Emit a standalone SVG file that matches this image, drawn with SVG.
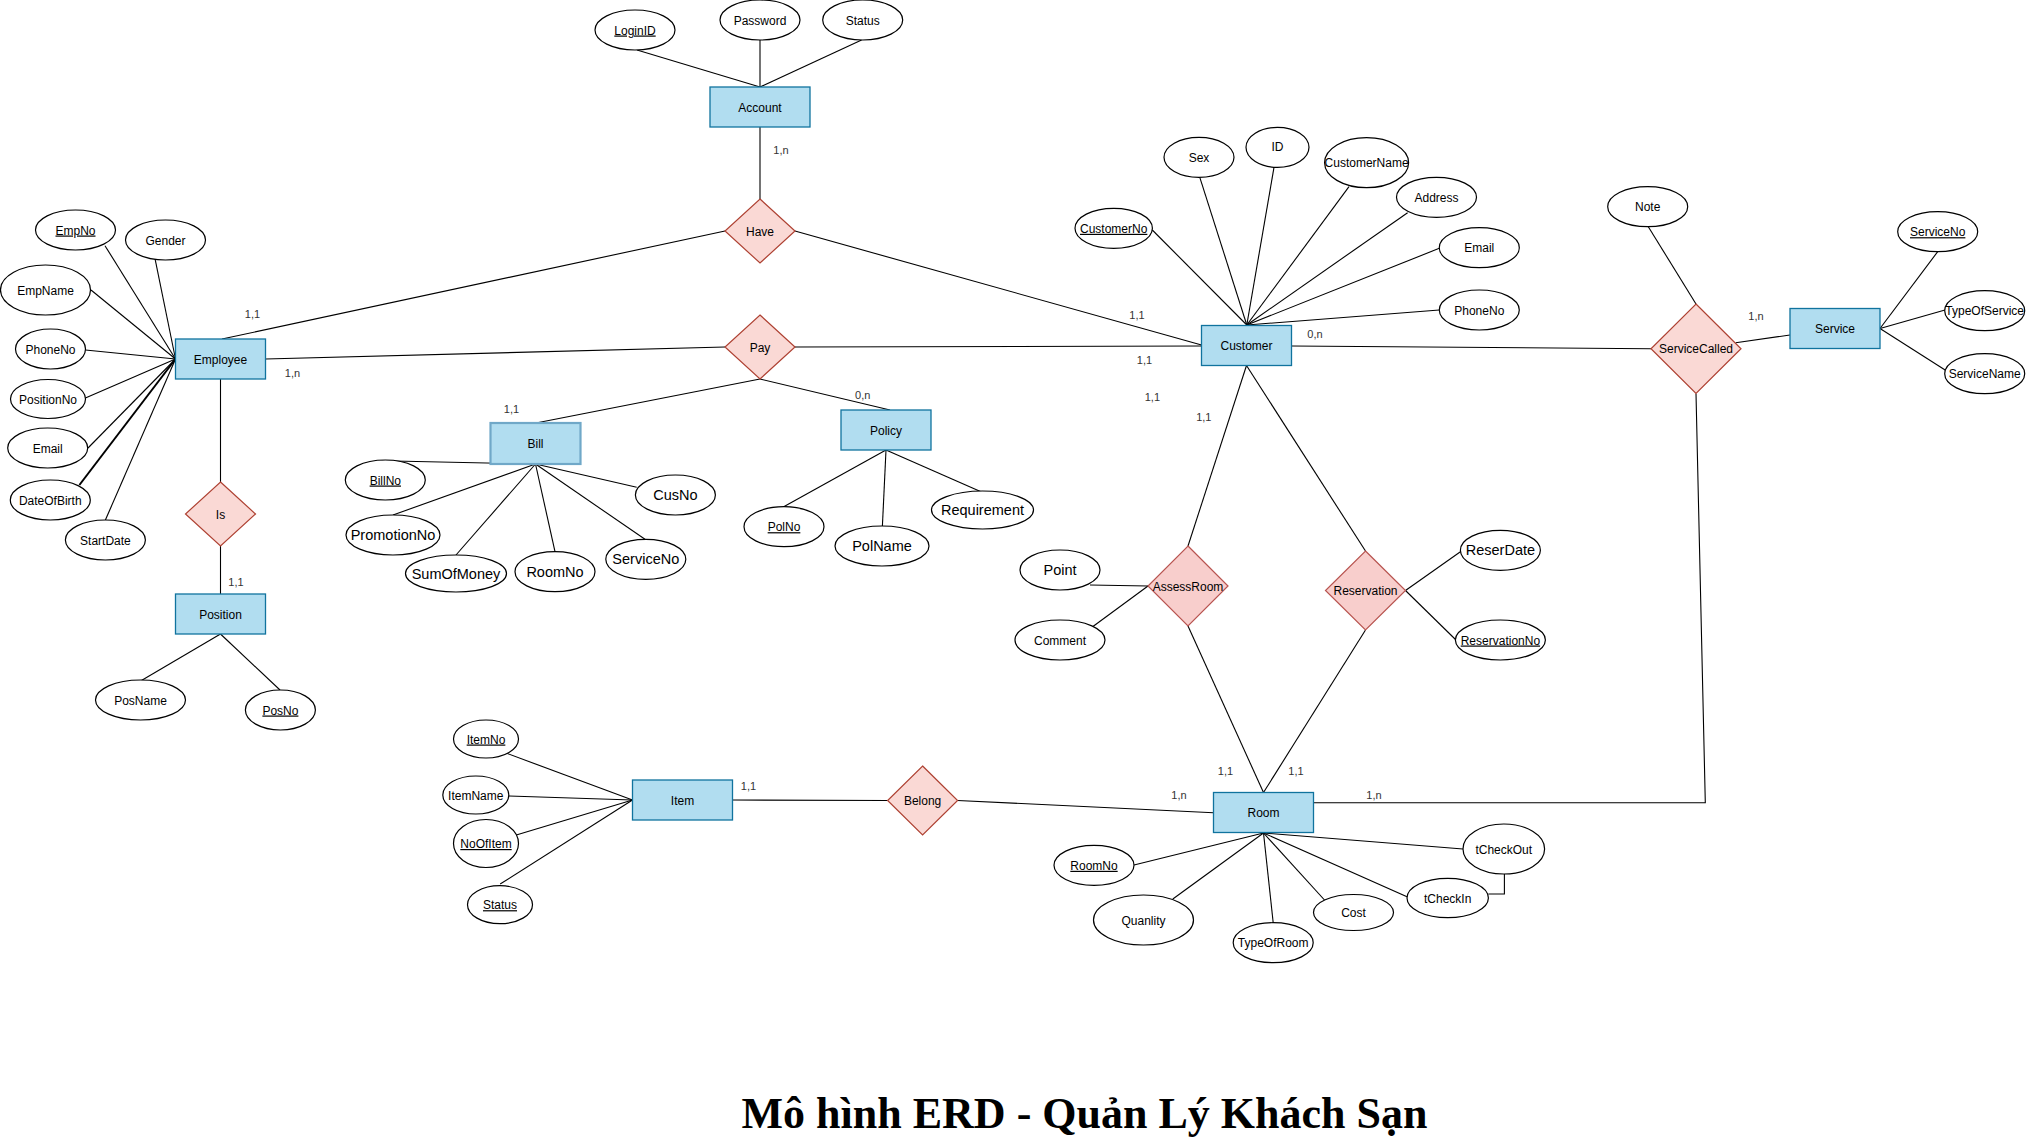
<svg xmlns="http://www.w3.org/2000/svg" width="2027" height="1142" viewBox="0 0 2027 1142">
<style>
text{font-family:"Liberation Sans",Arial,Helvetica,sans-serif;font-size:12px;fill:#000;text-anchor:middle}
.ent{fill:#b1ddf0;stroke:#10739e;stroke-width:1.3}
.entb{fill:#b1ddf0;stroke:#70a8c8;stroke-width:2.2}
.rel{fill:#fad9d5;stroke:#ae4132;stroke-width:1.2}
.rel2{fill:#f8cecc;stroke:#b85450;stroke-width:1.2}
.att{fill:#fff;stroke:#000;stroke-width:1.2}
.lg{font-size:14.5px}
.u{text-decoration:underline}
.card{font-size:11px;fill:#333}
.title{font-family:"Liberation Serif","Times New Roman",serif;font-weight:bold;font-size:44px}
#connectors line,#connectors polyline{stroke:#000;stroke-width:1.1;fill:none}
</style>
<rect width="2027" height="1142" fill="#fff"/>
<g id="connectors">
<line x1="637" y1="50" x2="760" y2="87"/>
<line x1="760" y1="40" x2="760" y2="87"/>
<line x1="861.6" y1="40" x2="760" y2="87"/>
<line x1="760" y1="127" x2="760" y2="199"/>
<line x1="725" y1="231" x2="222" y2="339"/>
<line x1="795" y1="231" x2="1201.5" y2="345"/>
<line x1="725" y1="347" x2="265.5" y2="359"/>
<line x1="795" y1="347" x2="1201.5" y2="346"/>
<line x1="760" y1="379" x2="536" y2="423"/>
<line x1="760" y1="379" x2="890" y2="410"/>
<line x1="220.5" y1="379" x2="220.5" y2="482"/>
<line x1="220.5" y1="546" x2="220.5" y2="594"/>
<line x1="105" y1="245.7" x2="175.5" y2="359"/>
<line x1="155" y1="258.7" x2="175.5" y2="359"/>
<line x1="91" y1="290" x2="175.5" y2="359"/>
<line x1="85.4" y1="350" x2="175.5" y2="359"/>
<line x1="85.4" y1="398" x2="175.5" y2="359"/>
<line x1="88" y1="448" x2="175.5" y2="359"/>
<line x1="79.4" y1="485" x2="175.5" y2="359" style="stroke-width:2"/>
<line x1="105.4" y1="520" x2="175.5" y2="359"/>
<line x1="220.5" y1="634" x2="141" y2="680.7"/>
<line x1="220.5" y1="634" x2="280" y2="690"/>
<line x1="381.6" y1="460.7" x2="535.5" y2="464"/>
<line x1="393" y1="515" x2="535.5" y2="464"/>
<line x1="456" y1="555" x2="535.5" y2="464"/>
<line x1="555" y1="551.7" x2="535.5" y2="464"/>
<line x1="645" y1="539.3" x2="535.5" y2="464"/>
<line x1="636.7" y1="487.3" x2="535.5" y2="464"/>
<line x1="886" y1="450" x2="783.7" y2="506.7"/>
<line x1="886" y1="450" x2="882.4" y2="526"/>
<line x1="886" y1="450" x2="981" y2="491.7"/>
<line x1="1246.8" y1="325" x2="1152.3" y2="230"/>
<line x1="1246.8" y1="325" x2="1199.8" y2="177.3"/>
<line x1="1246.8" y1="325" x2="1274" y2="167.3"/>
<line x1="1246.8" y1="325" x2="1349" y2="186.7"/>
<line x1="1246.8" y1="325" x2="1407.6" y2="212.7"/>
<line x1="1246.8" y1="325" x2="1439.3" y2="248.3"/>
<line x1="1246.8" y1="325" x2="1439.3" y2="310"/>
<line x1="1291.5" y1="346" x2="1651" y2="348.7"/>
<line x1="1246.5" y1="365.5" x2="1188" y2="546"/>
<line x1="1246.5" y1="365.5" x2="1365.5" y2="551"/>
<line x1="1696" y1="304" x2="1648.3" y2="226.7"/>
<line x1="1735.7" y1="342.7" x2="1790" y2="335"/>
<line x1="1880" y1="328.5" x2="1937.7" y2="251.7"/>
<line x1="1880" y1="328.5" x2="1945" y2="310"/>
<line x1="1880" y1="328.5" x2="1946.7" y2="371"/>
<polyline points="1696,393.4 1705.3,802.7 1313.5,802.7"/>
<line x1="1148" y1="586" x2="1090" y2="585"/>
<line x1="1148" y1="586" x2="1092.6" y2="626.7"/>
<line x1="1188" y1="626" x2="1263.5" y2="792.5"/>
<line x1="1365.5" y1="630" x2="1263.5" y2="792.5"/>
<line x1="1405.5" y1="590.5" x2="1460.4" y2="551.7"/>
<line x1="1405.5" y1="590.5" x2="1456" y2="640"/>
<line x1="1263.5" y1="833" x2="1134" y2="865"/>
<line x1="1263.5" y1="833" x2="1172.8" y2="899"/>
<line x1="1263.5" y1="833" x2="1273.2" y2="922.7"/>
<line x1="1263.5" y1="833" x2="1324.5" y2="900"/>
<line x1="1263.5" y1="833" x2="1407" y2="896.7"/>
<line x1="1263.5" y1="833" x2="1463" y2="849"/>
<polyline points="1504.4,874 1504.4,894 1488.4,894"/>
<line x1="506.7" y1="753.3" x2="632.5" y2="800"/>
<line x1="509" y1="796" x2="632.5" y2="800"/>
<line x1="516.3" y1="835" x2="632.5" y2="800"/>
<line x1="500.2" y1="884" x2="632.5" y2="800"/>
<line x1="732.5" y1="800" x2="887.6" y2="800.5"/>
<line x1="957.6" y1="800.5" x2="1213.5" y2="812.7"/>
</g>
<g id="cardinalities">
<text class="card" x="252.5" y="318">1,1</text>
<text class="card" x="292.5" y="377">1,n</text>
<text class="card" x="781" y="154">1,n</text>
<text class="card" x="236" y="586">1,1</text>
<text class="card" x="511.5" y="412.5">1,1</text>
<text class="card" x="862.7" y="399">0,n</text>
<text class="card" x="1137" y="319">1,1</text>
<text class="card" x="1144.5" y="364">1,1</text>
<text class="card" x="1152.4" y="400.7">1,1</text>
<text class="card" x="1203.8" y="420.7">1,1</text>
<text class="card" x="1315" y="338">0,n</text>
<text class="card" x="1756" y="319.7">1,n</text>
<text class="card" x="748.5" y="790">1,1</text>
<text class="card" x="1179" y="799">1,n</text>
<text class="card" x="1225.5" y="775">1,1</text>
<text class="card" x="1296" y="775">1,1</text>
<text class="card" x="1374" y="799">1,n</text>
</g>
<g id="Account"><rect class="ent" x="710" y="87" width="100" height="40"/><text x="760" y="111.5">Account</text></g>
<g id="Employee"><rect class="ent" x="175.5" y="339" width="90" height="40"/><text x="220.5" y="363.5">Employee</text></g>
<g id="Position"><rect class="ent" x="175.5" y="594" width="90" height="40"/><text x="220.5" y="618.5">Position</text></g>
<g id="Bill"><rect class="entb" x="490.5" y="423" width="90" height="41"/><text x="535.5" y="448">Bill</text></g>
<g id="Policy"><rect class="ent" x="841" y="410" width="90" height="40"/><text x="886" y="434.5">Policy</text></g>
<g id="Customer"><rect class="ent" x="1201.5" y="325.5" width="90" height="40"/><text x="1246.5" y="350">Customer</text></g>
<g id="Service"><rect class="ent" x="1790" y="308.5" width="90" height="40"/><text x="1835" y="333">Service</text></g>
<g id="Item"><rect class="ent" x="632.5" y="780" width="100" height="40"/><text x="682.5" y="804.5">Item</text></g>
<g id="Room"><rect class="ent" x="1213.5" y="792.5" width="100" height="40"/><text x="1263.5" y="817">Room</text></g>
<g id="Have"><polygon class="rel" points="760,199 795,231 760,263 725,231"/><text x="760" y="235.5">Have</text></g>
<g id="Pay"><polygon class="rel" points="760,315 795,347 760,379 725,347"/><text x="760" y="351.5">Pay</text></g>
<g id="Is"><polygon class="rel" points="220.5,482 255.5,514 220.5,546 185.5,514"/><text x="220.5" y="518.5">Is</text></g>
<g id="ServiceCalled"><polygon class="rel" points="1696,304 1741,348.7 1696,393.4 1651,348.7"/><text x="1696" y="353">ServiceCalled</text></g>
<g id="AssessRoom"><polygon class="rel2" points="1188,546 1228,586 1188,626 1148,586"/><text x="1188" y="590.5">AssessRoom</text></g>
<g id="Reservation"><polygon class="rel2" points="1365.5,551 1405.5,590.5 1365.5,630 1325.5,590.5"/><text x="1365.5" y="595">Reservation</text></g>
<g id="Belong"><polygon class="rel" points="922.6,766 957.6,800.5 922.6,835 887.6,800.5"/><text x="922.6" y="805">Belong</text></g>
<g id="attr-LoginID"><ellipse class="att" cx="635" cy="30" rx="40" ry="20"/><text class="u" x="635" y="34.5">LoginID</text></g>
<g id="attr-Password"><ellipse class="att" cx="760" cy="20" rx="40" ry="20"/><text x="760" y="24.5">Password</text></g>
<g id="attr-AccStatus"><ellipse class="att" cx="862.7" cy="20" rx="40" ry="20"/><text x="862.7" y="24.5">Status</text></g>
<g id="attr-EmpNo"><ellipse class="att" cx="75.5" cy="230" rx="40" ry="20"/><text class="u" x="75.5" y="234.5">EmpNo</text></g>
<g id="attr-Gender"><ellipse class="att" cx="165.5" cy="240" rx="40" ry="20"/><text x="165.5" y="244.5">Gender</text></g>
<g id="attr-EmpName"><ellipse class="att" cx="45.5" cy="290" rx="45" ry="25"/><text x="45.5" y="294.5">EmpName</text></g>
<g id="attr-EmpPhoneNo"><ellipse class="att" cx="50.5" cy="349" rx="35" ry="20"/><text x="50.5" y="353.5">PhoneNo</text></g>
<g id="attr-PositionNo"><ellipse class="att" cx="48" cy="399" rx="37.5" ry="19.5"/><text x="48" y="403.5">PositionNo</text></g>
<g id="attr-EmpEmail"><ellipse class="att" cx="47.7" cy="448" rx="40" ry="20"/><text x="47.7" y="452.5">Email</text></g>
<g id="attr-DateOfBirth"><ellipse class="att" cx="50.3" cy="500" rx="40" ry="20"/><text x="50.3" y="504.5">DateOfBirth</text></g>
<g id="attr-StartDate"><ellipse class="att" cx="105.4" cy="540" rx="40" ry="20"/><text x="105.4" y="544.5">StartDate</text></g>
<g id="attr-PosName"><ellipse class="att" cx="140.5" cy="700" rx="45" ry="20"/><text x="140.5" y="704.5">PosName</text></g>
<g id="attr-PosNo"><ellipse class="att" cx="280.4" cy="710" rx="35" ry="20"/><text class="u" x="280.4" y="714.5">PosNo</text></g>
<g id="attr-BillNo"><ellipse class="att" cx="385.3" cy="480" rx="40" ry="20"/><text class="u" x="385.3" y="484.5">BillNo</text></g>
<g id="attr-PromotionNo"><ellipse class="att" cx="393" cy="535" rx="47" ry="20"/><text class="lg" x="393" y="540">PromotionNo</text></g>
<g id="attr-SumOfMoney"><ellipse class="att" cx="456" cy="573.5" rx="50.5" ry="18.5"/><text class="lg" x="456" y="578.5">SumOfMoney</text></g>
<g id="attr-BillRoomNo"><ellipse class="att" cx="555" cy="571.7" rx="40" ry="20"/><text class="lg" x="555" y="576.7">RoomNo</text></g>
<g id="attr-BillServiceNo"><ellipse class="att" cx="645.8" cy="559.3" rx="40" ry="20"/><text class="lg" x="645.8" y="564.3">ServiceNo</text></g>
<g id="attr-CusNo"><ellipse class="att" cx="675.4" cy="495" rx="40" ry="20"/><text class="lg" x="675.4" y="500">CusNo</text></g>
<g id="attr-PolNo"><ellipse class="att" cx="784" cy="526.7" rx="40" ry="20"/><text class="u" x="784" y="531.2">PolNo</text></g>
<g id="attr-PolName"><ellipse class="att" cx="882" cy="546" rx="47" ry="20"/><text class="lg" x="882" y="551">PolName</text></g>
<g id="attr-Requirement"><ellipse class="att" cx="982.5" cy="510" rx="51" ry="19"/><text class="lg" x="982.5" y="515">Requirement</text></g>
<g id="attr-CustomerNo"><ellipse class="att" cx="1113.7" cy="228.3" rx="38.7" ry="20"/><text class="u" x="1113.7" y="232.8">CustomerNo</text></g>
<g id="attr-Sex"><ellipse class="att" cx="1199" cy="157.3" rx="35" ry="20"/><text x="1199" y="161.8">Sex</text></g>
<g id="attr-ID"><ellipse class="att" cx="1277.5" cy="147.3" rx="31.5" ry="20"/><text x="1277.5" y="151.3">ID</text></g>
<g id="attr-CustomerName"><ellipse class="att" cx="1366.6" cy="162.7" rx="42" ry="25"/><text x="1366.6" y="167.2">CustomerName</text></g>
<g id="attr-Address"><ellipse class="att" cx="1436.5" cy="197.3" rx="40" ry="20"/><text x="1436.5" y="201.8">Address</text></g>
<g id="attr-CusEmail"><ellipse class="att" cx="1479.3" cy="247.7" rx="40" ry="20"/><text x="1479.3" y="252.2">Email</text></g>
<g id="attr-CusPhoneNo"><ellipse class="att" cx="1479.3" cy="310" rx="40" ry="20"/><text x="1479.3" y="314.5">PhoneNo</text></g>
<g id="attr-Note"><ellipse class="att" cx="1647.7" cy="206.7" rx="40" ry="20"/><text x="1647.7" y="211.2">Note</text></g>
<g id="attr-ServiceNo"><ellipse class="att" cx="1937.7" cy="231.7" rx="40" ry="20"/><text class="u" x="1937.7" y="236.2">ServiceNo</text></g>
<g id="attr-TypeOfService"><ellipse class="att" cx="1984.7" cy="310.7" rx="40" ry="20"/><text x="1984.7" y="315.2">TypeOfService</text></g>
<g id="attr-ServiceName"><ellipse class="att" cx="1984.7" cy="373.7" rx="40" ry="20"/><text x="1984.7" y="378.2">ServiceName</text></g>
<g id="attr-Point"><ellipse class="att" cx="1060" cy="570" rx="40" ry="20"/><text class="lg" x="1060" y="575">Point</text></g>
<g id="attr-Comment"><ellipse class="att" cx="1060" cy="640" rx="45" ry="20"/><text x="1060" y="644.5">Comment</text></g>
<g id="attr-ReserDate"><ellipse class="att" cx="1500.4" cy="550.3" rx="40" ry="20"/><text class="lg" x="1500.4" y="555.3">ReserDate</text></g>
<g id="attr-ReservationNo"><ellipse class="att" cx="1500.4" cy="640" rx="45" ry="20"/><text class="u" x="1500.4" y="644.5">ReservationNo</text></g>
<g id="attr-RoomNo"><ellipse class="att" cx="1094" cy="865.3" rx="40" ry="20"/><text class="u" x="1094" y="869.8">RoomNo</text></g>
<g id="attr-Quanlity"><ellipse class="att" cx="1143.5" cy="920" rx="50" ry="25"/><text x="1143.5" y="924.5">Quanlity</text></g>
<g id="attr-TypeOfRoom"><ellipse class="att" cx="1273.2" cy="942.7" rx="40" ry="20"/><text x="1273.2" y="947.2">TypeOfRoom</text></g>
<g id="attr-Cost"><ellipse class="att" cx="1353.5" cy="912.5" rx="40" ry="18"/><text x="1353.5" y="917">Cost</text></g>
<g id="attr-tCheckIn"><ellipse class="att" cx="1447.7" cy="898" rx="40.7" ry="19.7"/><text x="1447.7" y="902.5">tCheckIn</text></g>
<g id="attr-tCheckOut"><ellipse class="att" cx="1503.8" cy="849" rx="40.8" ry="25"/><text x="1503.8" y="853.5">tCheckOut</text></g>
<g id="attr-ItemNo"><ellipse class="att" cx="486" cy="739" rx="32.5" ry="19"/><text class="u" x="486" y="743.5">ItemNo</text></g>
<g id="attr-ItemName"><ellipse class="att" cx="475.8" cy="795" rx="33" ry="19"/><text x="475.8" y="799.5">ItemName</text></g>
<g id="attr-NoOfItem"><ellipse class="att" cx="486" cy="843.5" rx="32.5" ry="24"/><text class="u" x="486" y="848">NoOfItem</text></g>
<g id="attr-ItemStatus"><ellipse class="att" cx="500" cy="904.7" rx="32.5" ry="19"/><text class="u" x="500" y="909.2">Status</text></g>
<g id="title"><text class="title" x="1084.5" y="1128">Mô hình ERD - Quản Lý Khách Sạn</text></g>
</svg>
